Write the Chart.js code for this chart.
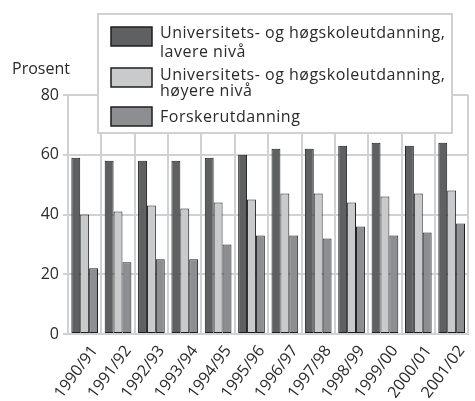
<!DOCTYPE html>
<html>
<head>
<meta charset="utf-8">
<script src="https://cdn.jsdelivr.net/npm/chart.js@4"></script>
<style>
  html, body { margin: 0; padding: 0; background: #fff; overflow: hidden; }
  #wrap { position: relative; width: 475px; height: 401px; }
</style>
</head>
<body>
<div id="wrap"><canvas id="chart"></canvas></div>
<script>
// Data
const years = ['1990/91', '1991/92', '1992/93', '1993/94', '1994/95', '1995/96',
  '1996/97', '1997/98', '1998/99', '1999/00', '2000/01', '2001/02'];
const lowerLevel = [59, 58, 58, 58, 59, 60, 62, 62, 63, 64, 63, 64];
const higherLevel = [40, 41, 43, 42, 44, 45, 47, 47, 44, 46, 47, 48];
const research = [22, 24, 25, 25, 30, 33, 33, 32, 36, 33, 34, 37];
const seriesLabels = [
  ['Universitets- og høgskoleutdanning,', 'lavere nivå'],
  ['Universitets- og høgskoleutdanning,', 'høyere nivå'],
  ['Forskerutdanning']
];
const seriesColors = ['#5f6062', '#c9cacc', '#8d8e91'];
const yMin = 0, yMax = 80, yStep = 20;
const yTitle = 'Prosent';

const FONT = '"Open Sans", "DejaVu Sans", sans-serif';
const gridColor = '#d0d1d3';
const textColor = '#2a2a2a';

// Draws the y title and the boxed legend that sits over the top of the plot
const overlay = {
  id: 'overlay',
  afterDraw(chart) {
    const ctx = chart.ctx;
    ctx.save();
    ctx.fillStyle = textColor;
    ctx.font = '16px ' + FONT;
    ctx.textBaseline = 'alphabetic';
    ctx.textAlign = 'left';
    ctx.fillText(yTitle, 12, 74);

    // legend box
    ctx.fillStyle = '#fff';
    ctx.fillRect(98, 14, 354, 119);
    ctx.strokeStyle = gridColor;
    ctx.lineWidth = 2;
    ctx.strokeRect(98, 14, 354, 119);

    const items = [
      { sy: 27, lines: [38, 57] },
      { sy: 68, lines: [80, 96] },
      { sy: 107, lines: [122] }
    ];
    ctx.letterSpacing = '0.5px';
    items.forEach((it, i) => {
      ctx.fillStyle = seriesColors[i];
      ctx.fillRect(111, it.sy, 41, 19);
      ctx.strokeStyle = '#1e1e1e';
      ctx.lineWidth = 1.5;
      ctx.strokeRect(111, it.sy, 41, 19);
      ctx.fillStyle = textColor;
      ctx.font = '16px ' + FONT;
      seriesLabels[i].forEach((t, j) => ctx.fillText(t, 160, it.lines[j]));
    });
    ctx.restore();
  }
};

new Chart(document.getElementById('chart'), {
  type: 'bar',
  data: {
    labels: years,
    datasets: [lowerLevel, higherLevel, research].map((d, i) => ({
      label: seriesLabels[i].join(' '),
      data: d,
      backgroundColor: seriesColors[i],
      borderColor: '#1e1e1e',
      borderWidth: 1,
      borderSkipped: false,
      categoryPercentage: 0.8,
      barPercentage: 1.0
    }))
  },
  options: {
    responsive: true,
    maintainAspectRatio: false,
    animation: false,
    layout: { autoPadding: false, padding: { top: 95, right: 0, left: 0, bottom: 0 } },
    plugins: {
      legend: { display: false },
      tooltip: { enabled: false }
    },
    scales: {
      x: {
        afterFit: s => { s.height = 67; },
        grid: { color: gridColor, lineWidth: 2, offset: true, drawTicks: false },
        border: { color: gridColor, width: 2 },
        ticks: {
          color: textColor,
          font: { family: FONT, size: 16 },
          minRotation: 53,
          maxRotation: 53,
          autoSkip: false,
          labelOffset: 10,
          padding: 8
        }
      },
      y: {
        min: yMin,
        max: yMax,
        afterFit: s => { s.width = 68; },
        grid: { color: gridColor, lineWidth: 2, tickLength: 5 },
        border: { color: gridColor, width: 2 },
        ticks: {
          stepSize: yStep,
          color: textColor,
          font: { family: FONT, size: 16 },
          padding: 4
        }
      }
    }
  },
  plugins: [overlay]
});
</script>
</body>
</html>
